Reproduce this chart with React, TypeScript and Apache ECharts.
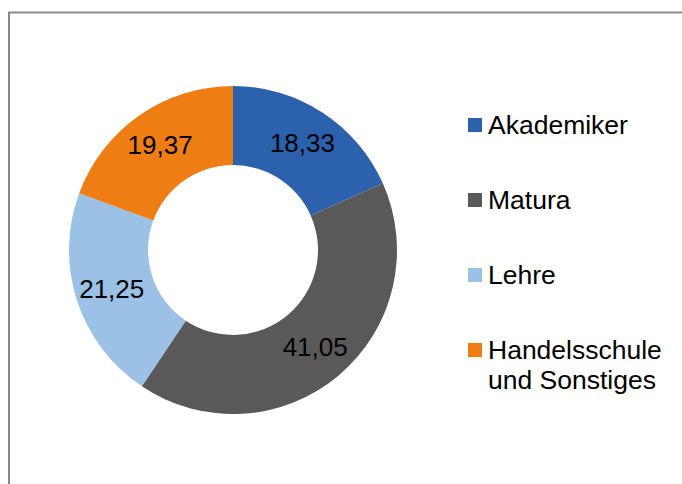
import React, { useEffect, useRef } from "react";
import * as echarts from "echarts";

const categories = ["Akademiker", "Matura", "Lehre", "Handelsschule\nund Sonstiges"];
const values = [18.33, 41.05, 21.25, 19.37];
const colors = ["#2B61AD", "#595959", "#9BC2E6", "#EE7E14"];

const FONT = "'Liberation Sans', Arial, sans-serif";

export default function App() {
  const ref = useRef<HTMLDivElement>(null);
  useEffect(() => {
    if (!ref.current) return;
    const chart = echarts.init(ref.current, null, { renderer: "svg" });

    const legendGraphics: any[] = [];
    categories.forEach((name, i) => {
      const cy = 125 + i * 75;
      legendGraphics.push({
        type: "rect",
        shape: { x: 468, y: cy - 7, width: 14, height: 14 },
        style: { fill: colors[i] },
        silent: true,
      });
      legendGraphics.push({
        type: "text",
        x: 488,
        y: cy - 15,
        style: {
          text: name,
          fill: "#000",
          font: `26.5px ${FONT}`,
          lineHeight: 30,
          textVerticalAlign: "top",
        },
        silent: true,
      });
    });

    chart.setOption({
      animation: false,
      backgroundColor: "#fff",
      color: colors,
      graphic: [
        {
          type: "rect",
          shape: { x: 9, y: 12.5, width: 720, height: 520 },
          style: { fill: "none", stroke: "#898989", lineWidth: 2 },
          silent: true,
          z: 0,
        },
        ...legendGraphics,
      ],
      series: [
        {
          type: "pie",
          center: [233, 250],
          radius: [85, 164],
          startAngle: 90,
          clockwise: true,
          avoidLabelOverlap: false,
          itemStyle: { borderWidth: 0 },
          label: {
            show: true,
            position: "inside",
            color: "#000",
            fontSize: 26,
            fontFamily: FONT,
            formatter: (p: any) => Number(p.value).toFixed(2).replace(".", ","),
          },
          labelLine: { show: false },
          emphasis: { disabled: true },
          data: categories.map((c, i) => ({ name: c, value: values[i] })),
        },
      ],
    });
    return () => chart.dispose();
  }, []);

  return (
    <div
      ref={ref}
      style={{ position: "absolute", left: 0, top: 0, width: 682, height: 484 }}
    />
  );
}
